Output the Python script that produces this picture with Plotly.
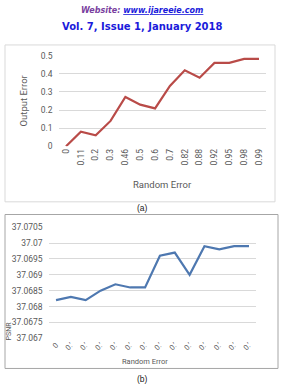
import plotly.graph_objects as go

W, H = 285, 391

# Data
cats_a = ["0", "0.11", "0.2", "0.3", "0.46", "0.5", "0.6", "0.7", "0.82", "0.88", "0.92", "0.95", "0.98", "0.99"]
output_error = [0, 0.081, 0.061, 0.14, 0.272, 0.23, 0.209, 0.333, 0.419, 0.378, 0.46, 0.46, 0.482, 0.482]
ticks_a_y = [0, 0.1, 0.2, 0.3, 0.4, 0.5]

cats_b = cats_a
psnr = [37.0682, 37.0683, 37.0682, 37.0685, 37.0687, 37.0686, 37.0686,
        37.0696, 37.0697, 37.0690, 37.0699, 37.0698, 37.0699, 37.0699]
ticks_b_y = [37.067, 37.0675, 37.068, 37.0685, 37.069, 37.0695, 37.07, 37.0705]
ticks_b_text = ["37.067", "37.0675", "37.068", "37.0685", "37.069", "37.0695", "37.07", "37.0705"]
ticklabels_b = ["0"] + ["0.\u2019"] * 13

FONT = "Liberation Sans Narrow, Roboto, Arial"
GRAY = "#595959"
GRID = "#d9d9d9"

def px(x):
    return x / W

def py(y):
    return 1 - y / H

fig = go.Figure()
fig.add_trace(go.Scatter(x=list(range(len(cats_a))), y=output_error, mode="lines",
                         line=dict(color="#b94b48", width=2.2), xaxis="x", yaxis="y",
                         showlegend=False, hoverinfo="skip"))
fig.add_trace(go.Scatter(x=list(range(len(cats_b))), y=psnr, mode="lines",
                         line=dict(color="#4e78b0", width=2.2), xaxis="x2", yaxis="y2",
                         showlegend=False, hoverinfo="skip"))

fig.update_layout(
    width=W, height=H, margin=dict(l=0, r=0, t=0, b=0),
    paper_bgcolor="white", plot_bgcolor="white",
    font=dict(family=FONT, color=GRAY),
    xaxis=dict(domain=[px(58.6), px(266.4)], range=[-0.5, 13.5], anchor="y",
               tickmode="array", tickvals=list(range(len(cats_a))), ticktext=cats_a,
               tickangle=-90, tickfont=dict(size=8.5, color=GRAY), showgrid=False,
               showline=False, zeroline=False, ticks=""),
    yaxis=dict(domain=[py(145), py(52)], range=[0, 0.5], anchor="x",
               tickmode="array", tickvals=ticks_a_y, ticktext=["0", "0.1", "0.2", "0.3", "0.4", "0.5"],
               tickfont=dict(size=8.5, color=GRAY), showgrid=True, gridcolor=GRID, gridwidth=1,
               zeroline=False, showline=False, ticks="", ticklabelstandoff=5),
    xaxis2=dict(domain=[px(48.6), px(256.4)], range=[-0.5, 13.5], anchor="y2",
                tickmode="array", tickvals=list(range(len(cats_b))), ticktext=ticklabels_b,
                tickangle=-45, tickfont=dict(size=7.5, color=GRAY), showgrid=False,
                showline=False, zeroline=False, ticks=""),
    yaxis2=dict(domain=[py(342), py(228)], range=[37.067, 37.0705], anchor="x2",
                tickmode="array", tickvals=ticks_b_y, ticktext=ticks_b_text,
                tickfont=dict(size=8.5, color=GRAY), showgrid=True, gridcolor=GRID, gridwidth=1,
                zeroline=False, showline=False, ticks="", ticklabelstandoff=5),
)

shapes = [
    dict(type="rect", xref="paper", yref="paper", x0=px(5), x1=px(275), y0=py(202), y1=py(41),
         line=dict(color="#d9d9d9", width=1), fillcolor="rgba(0,0,0,0)", layer="below"),
    dict(type="rect", xref="paper", yref="paper", x0=px(5), x1=px(278), y0=py(373), y1=py(215),
         line=dict(color="#a6a6a6", width=1), fillcolor="rgba(0,0,0,0)", layer="below"),
]
fig.update_layout(shapes=shapes)

ann = [
    dict(text="<b><i>Website: <span style='color:#1a1adb'><u>www.ijareeie.com</u></span></i></b>",
         x=px(142), y=py(6), font=dict(family="DejaVu Sans", size=8, color="#7a3fa0")),
    dict(text="<b>Vol. 7, Issue 1, January 2018</b>", x=px(142), y=py(22),
         font=dict(family="DejaVu Sans", size=10, color="#1a1adb")),
    dict(text="Output Error", x=px(23), y=py(98), textangle=-90,
         font=dict(family=FONT, size=9.5, color=GRAY)),
    dict(text="Random Error", x=px(162), y=py(184), font=dict(family=FONT, size=9.5, color=GRAY)),
    dict(text="(a)", x=px(142), y=py(208), font=dict(family="Liberation Sans", size=8.5, color="#222222")),
    dict(text="Random Error", x=px(145), y=py(366), font=dict(family=FONT, size=7.5, color=GRAY)),
    dict(text="PSNR", x=px(9), y=py(335), textangle=-90, font=dict(family=FONT, size=7, color=GRAY)),
    dict(text="(b)", x=px(142), y=py(384), font=dict(family="Liberation Sans", size=8.5, color="#222222")),
]
for a in ann:
    a.update(xref="paper", yref="paper", showarrow=False, xanchor="center", yanchor="middle")
fig.update_layout(annotations=ann)

fig.write_html("out.html")
